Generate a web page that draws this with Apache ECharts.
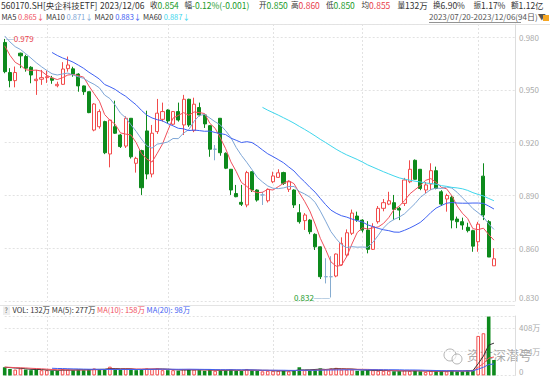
<!DOCTYPE html>
<html><head><meta charset="utf-8">
<script src="https://cdn.jsdelivr.net/npm/echarts@6/dist/echarts.min.js"></script>
<style>html,body{margin:0;padding:0;background:#fff}#c{width:550px;height:381px}</style>
</head><body><div id="c"></div>
<script>
// ---- data ----
const dates = [
'2023/07/20','2023/07/21','2023/07/24','2023/07/25','2023/07/26','2023/07/27','2023/07/28','2023/07/31',
'2023/08/01','2023/08/02','2023/08/03','2023/08/04','2023/08/07','2023/08/08','2023/08/09','2023/08/10','2023/08/11',
'2023/08/14','2023/08/15','2023/08/16','2023/08/17','2023/08/18','2023/08/21','2023/08/22','2023/08/23','2023/08/24',
'2023/08/25','2023/08/28','2023/08/29','2023/08/30','2023/08/31',
'2023/09/01','2023/09/04','2023/09/05','2023/09/06','2023/09/07','2023/09/08','2023/09/11','2023/09/12','2023/09/13',
'2023/09/14','2023/09/15','2023/09/18','2023/09/19','2023/09/20','2023/09/21','2023/09/22','2023/09/25','2023/09/26',
'2023/09/27','2023/09/28',
'2023/10/09','2023/10/10','2023/10/11','2023/10/12','2023/10/13','2023/10/16','2023/10/17','2023/10/18','2023/10/19',
'2023/10/20','2023/10/23','2023/10/24','2023/10/25','2023/10/26','2023/10/27','2023/10/30','2023/10/31',
'2023/11/01','2023/11/02','2023/11/03','2023/11/06','2023/11/07','2023/11/08','2023/11/09','2023/11/10','2023/11/13',
'2023/11/14','2023/11/15','2023/11/16','2023/11/17','2023/11/20','2023/11/21','2023/11/22','2023/11/23','2023/11/24',
'2023/11/27','2023/11/28','2023/11/29','2023/11/30',
'2023/12/01','2023/12/04','2023/12/05','2023/12/06'];
const opens = [0.977,0.9599,0.9553,0.9709,0.969,0.9629,0.9553,0.9561,0.957,0.9567,
0.9524,0.9532,0.9621,0.962,0.959,0.9523,0.949,0.9272,0.9291,0.932,
0.9136,0.9291,0.9244,0.9181,0.9339,0.9083,0.9155,0.9267,0.9022,0.9263,
0.9333,0.9386,0.9305,0.9377,0.9301,0.9447,0.9269,0.940,0.9358,0.9297,
0.9163,0.9339,0.914,0.9049,0.8911,0.8861,0.8846,0.9035,0.8931,0.8903,
0.887,0.8978,0.9003,0.903,0.8935,0.8931,0.8802,0.8757,0.876,0.8679,
0.8608,0.8438,0.8438,0.8442,0.8505,0.8561,0.8685,0.8783,0.876,0.8703,
0.8594,0.8751,0.8827,0.8851,0.8859,0.8827,0.8855,0.8978,0.910,0.9049,
0.8931,0.8965,0.9041,0.8921,0.888,0.889,0.8766,0.8751,0.8719,0.870,
0.8637,0.901,0.8751,0.850];
const closes = [0.9604,0.9553,0.9599,0.9694,0.9624,0.9585,0.9561,0.957,0.9575,0.9555,
0.9532,0.9619,0.9642,0.9591,0.9523,0.949,0.9371,0.942,0.9377,0.9143,
0.9329,0.9254,0.9178,0.9339,0.912,0.9111,0.8944,0.9022,0.9254,0.9368,
0.9377,0.9324,0.9377,0.9329,0.9447,0.9301,0.9419,0.9358,0.9307,0.9163,
0.9163,0.9143,0.9055,0.8931,0.8893,0.885,0.903,0.8931,0.8874,0.8903,
0.8935,0.9011,0.9029,0.8969,0.8978,0.8846,0.8751,0.8789,0.8694,0.8608,
0.8438,0.8438,0.8438,0.8567,0.8628,0.8688,0.880,0.876,0.8703,0.8594,
0.8722,0.8827,0.8859,0.887,0.8821,0.8817,0.8988,0.9049,0.8992,0.894,
0.896,0.9041,0.894,0.8851,0.890,0.876,0.8751,0.8732,0.870,0.8612,
0.8737,0.8789,0.855,0.854];
const lows = [0.9595,0.9515,0.9515,0.9624,0.9604,0.9538,0.9472,0.9529,0.954,0.9535,
0.9515,0.953,0.9604,0.9575,0.949,0.9472,0.9368,0.9265,0.928,0.9135,
0.906,0.925,0.917,0.917,0.911,0.903,0.8903,0.8992,0.9003,0.925,
0.932,0.931,0.930,0.932,0.9244,0.929,0.926,0.935,0.9284,0.912,
0.910,0.9126,0.905,0.8903,0.889,0.884,0.8833,0.892,0.8865,0.8846,
0.886,0.897,0.900,0.896,0.892,0.8829,0.874,0.8704,0.868,0.859,
0.8425,0.840,0.832,0.8435,0.850,0.855,0.8675,0.875,0.869,0.8571,
0.859,0.874,0.881,0.8845,0.876,0.876,0.884,0.897,0.899,0.893,
0.8912,0.893,0.8935,0.884,0.8808,0.8713,0.8714,0.8705,0.869,0.858,
0.858,0.876,0.855,0.850];
const highs = [0.979,0.9624,0.9633,0.9712,0.970,0.9635,0.9614,0.9614,0.961,0.958,
0.9547,0.9658,0.969,0.9632,0.9595,0.9525,0.949,0.9425,0.939,0.9325,
0.933,0.9439,0.925,0.935,0.934,0.912,0.916,0.9382,0.9301,0.9449,
0.9428,0.939,0.938,0.9428,0.9472,0.945,0.9456,0.9428,0.936,0.930,
0.9187,0.934,0.9145,0.905,0.896,0.896,0.904,0.9037,0.8935,0.8921,
0.894,0.9035,0.9049,0.9035,0.8985,0.8935,0.8851,0.880,0.8765,0.8685,
0.861,0.8543,0.8555,0.857,0.8662,0.8707,0.882,0.8808,0.8765,0.8754,
0.8742,0.884,0.888,0.8921,0.8903,0.8835,0.900,0.910,0.9105,0.905,
0.8977,0.9083,0.9064,0.893,0.891,0.890,0.878,0.8774,0.8745,0.8705,
0.875,0.9083,0.876,0.860];
// volume in 万
const volumes = [70,55,50,60,50,45,50,45,45,40,
40,55,50,45,50,45,55,60,50,55,
75,55,50,55,50,45,55,60,55,60,
45,45,45,40,55,50,50,45,40,50,
40,45,45,50,40,40,55,45,40,35,
40,40,40,40,35,45,70,45,45,50,
60,55,60,65,50,50,50,40,40,45,
45,40,40,40,35,35,45,40,40,35,
30,40,35,40,35,45,35,35,45,47,
339,362,505,132];
// closes / volumes of the 10 sessions before 2023/07/20 (feed the moving averages)
const priorCloses = [0.988,0.990,0.987,0.985,0.986,0.984,0.982,0.980,0.978,0.975];
const priorVolumes = [75,70,80,70,65,75,70,68,72,70];
const priceTicks = [0.830,0.860,0.890,0.920,0.950,0.980];
const volTicks = [0,204,408];
const maPeriods = [5,10,20,60];
const volMaPeriods = [5,10,20];
// header read-outs as shown on the chart
const headerLabels = ['收','幅','开','高','低','均','量','换','振','额'];
const headerValues = ['0.854','-0.12%(-0.001)','0.850','0.860','0.850','0.855','132万','6.90%','1.17%','1.12亿'];
const maReadouts = ['0.865','0.871','0.883','0.887'];
const volReadouts = ['132万','277万','158万','98万'];

// ---- helpers ----
function movingAvg(values, prior, n) {
  const all = prior.concat(values);
  const off = prior.length;
  return values.map((_, i) => {
    const idx = i + off;
    if (idx < n - 1) return null;
    let s = 0;
    for (let k = idx - n + 1; k <= idx; k++) s += all[k];
    return +(s / n).toFixed(4);
  });
}
const N = dates.length;
const pad = ['', '', '', ''];
const cats = dates.concat(pad);
const kData = dates.map((d, i) => [opens[i], closes[i], lows[i], highs[i]]);
const maColors = ['#f0505c', '#7ea6d6', '#3f61f2', '#3fd6ec'];
const maSeries = maPeriods.map((p, j) => ({
  name: 'MA' + p, type: 'line', xAxisIndex: 0, yAxisIndex: 0,
  data: movingAvg(closes, priorCloses, p), showSymbol: false, silent: true,
  lineStyle: { width: 1, color: maColors[j] }, z: 3
}));
const allCloses = priorCloses.concat(closes);
const volData = volumes.map((v, i) => {
  const up = allCloses[i + priorCloses.length] >= allCloses[i + priorCloses.length - 1];
  return { value: v, itemStyle: up ? { color: '#fff', borderColor: '#f24b4b', borderWidth: 1 } : { color: '#0d8a1c', borderColor: '#0d8a1c', borderWidth: 0 } };
});
const volMaColors = ['#333333', '#f0505c', '#3f61f2'];
const volMaSeries = volMaPeriods.map((p, j) => ({
  name: 'VMA' + p, type: 'line', xAxisIndex: 1, yAxisIndex: 1,
  data: movingAvg(volumes, priorVolumes, p), showSymbol: false, silent: true,
  lineStyle: { width: 1, color: volMaColors[j] }, z: 3
}));
let hiIdx = 0, loIdx = 0;
highs.forEach((h, i) => { if (h > highs[hiIdx]) hiIdx = i; });
lows.forEach((l, i) => { if (l < lows[loIdx]) loIdx = i; });

const FONT = '"Noto Sans CJK SC", "Noto Sans", sans-serif';
const GREEN = '#1a9a2a', RED = '#e8404a', DARK = '#333';
const last = N - 1;
const headerX = [150, 184.5, 259, 291, 326, 361.5, 397.5, 433, 473.5, 511];
const headerColors = [GREEN, GREEN, GREEN, RED, GREEN, RED, DARK, DARK, DARK, DARK];
const rs = (c, s) => ({ fill: c, fontSize: s, fontFamily: FONT });

function plain(x, y, t, c, size) {
  return { type: 'text', left: x, top: y, silent: true, style: { text: t, fill: c, fontSize: size, fontFamily: FONT } };
}
const graphic = [
  plain(1, 0.5, '560170.SH[央企科技ETF]', DARK, 8.5),
  plain(100, 0.5, dates[last], DARK, 8.5)
].concat(headerLabels.map((l, j) => ({
  type: 'text', left: headerX[j], top: 0.5, silent: true,
  style: { text: '{l|' + l + '}{v|' + headerValues[j] + '}', fontSize: 8.5, fontFamily: FONT,
    rich: { l: rs(DARK, 7.6), v: rs(headerColors[j], 8.5) } }
}))).concat([
  { type: 'text', left: 1.5, top: 12.5, silent: true,
    style: { text: maPeriods.map((p, j) => '{k|MA' + p + '} {m' + j + '|' + maReadouts[j] + '↓}').join(' '),
      fontSize: 7.5, fontFamily: FONT,
      rich: { k: rs(DARK, 7.5), m0: rs(maColors[0], 7.5), m1: rs(maColors[1], 7.5), m2: rs(maColors[2], 7.5), m3: rs(maColors[3], 7.5) } } },
  { type: 'text', left: 429, top: 12.5, silent: true, style: { text: dates[0] + '-' + dates[last] + '(' + N + '日)▼', fill: '#555', fontSize: 8, fontFamily: FONT } },
  { type: 'line', silent: true, shape: { x1: 429, y1: 22.5, x2: 521, y2: 22.5 }, style: { stroke: '#777', lineWidth: 0.8 } },
  { type: 'rect', silent: true, left: 543, top: 15, shape: { width: 6, height: 6 }, style: { fill: '#f5a623' } },
  { type: 'line', silent: true, shape: { x1: 0, y1: 24.5, x2: 550, y2: 24.5 }, style: { stroke: '#e4e4e4', lineWidth: 1 } },
  { type: 'line', silent: true, shape: { x1: 0, y1: 305.5, x2: 515, y2: 305.5 }, style: { stroke: '#e4e4e4', lineWidth: 1 } },
  { type: 'rect', silent: true, left: 3, top: 306.5, shape: { width: 7, height: 8.5 }, style: { fill: '#eeeeee' } },
  plain(4.6, 306, '?', '#666', 7),
  { type: 'text', left: 12.5, top: 305.5, silent: true,
    style: { text: '{a|VOL: ' + volReadouts[0] + ' MA(5): ' + volReadouts[1] + '} {b|MA(10): ' + volReadouts[2] + '} {c|MA(20): ' + volReadouts[3] + '}',
      fontSize: 7.5, fontFamily: FONT,
      rich: { a: rs(DARK, 7.5), b: rs('#f0505c', 7.5), c: rs('#3f61f2', 7.5) } } },
  { type: 'circle', silent: true, shape: { cx: 450, cy: 355, r: 6 }, style: { fill: 'none', stroke: 'rgba(120,120,120,0.55)', lineWidth: 1 } },
  { type: 'circle', silent: true, shape: { cx: 457, cy: 359, r: 5 }, style: { fill: 'rgba(255,255,255,0.6)', stroke: 'rgba(120,120,120,0.55)', lineWidth: 1 } },
  plain(467, 348, '资本深潜号', 'rgba(110,110,110,0.6)', 13)
]);

const splitByMonth = (idx) => idx > 0 && idx < N && dates[idx].slice(0, 7) !== dates[idx - 1].slice(0, 7);
const xCommon = {
  type: 'category', data: cats, boundaryGap: false,
  axisLine: { show: false }, axisTick: { show: false }, axisLabel: { show: false },
  splitLine: { show: true, interval: splitByMonth, lineStyle: { color: '#e2e2e2', type: [2, 2] } }
};
const option = {
  animation: false,
  backgroundColor: '#fff',
  grid: [
    { left: 4.7, right: 35, top: 24, height: 277 },
    { left: 4.7, right: 35, top: 316, bottom: 5.6 }
  ],
  xAxis: [Object.assign({ gridIndex: 0 }, xCommon), Object.assign({ gridIndex: 1 }, xCommon)],
  yAxis: [
    { gridIndex: 0, type: 'value', position: 'right', scale: true,
      min: priceTicks[0], max: 0.9875, interval: priceTicks[1] - priceTicks[0],
      axisLine: { show: true, lineStyle: { color: '#dddddd' } }, axisTick: { show: false },
      axisLabel: { color: '#aaaaaa', fontSize: 8, fontFamily: FONT, margin: 4,
        formatter: v => v.toFixed(3), showMaxLabel: false, verticalAlignMinLabel: 'bottom' },
      splitLine: { lineStyle: { color: '#e2e2e2', type: [2, 2] } } },
    { gridIndex: 1, type: 'value', position: 'right',
      min: volTicks[0], max: 510, interval: volTicks[1] - volTicks[0],
      axisLine: { show: true, lineStyle: { color: '#dddddd' } }, axisTick: { show: false },
      axisLabel: { color: '#aaaaaa', fontSize: 8, fontFamily: FONT, margin: 4,
        formatter: v => v === 0 ? '0' : v + '万', showMaxLabel: false, verticalAlignMinLabel: 'bottom' },
      splitLine: { lineStyle: { color: '#e2e2e2', type: [2, 2] } } }
  ],
  graphic: graphic,
  series: [
    { name: 'K', type: 'candlestick', xAxisIndex: 0, yAxisIndex: 0, data: kData, barWidth: 3.6, clip: false,
      itemStyle: { color: '#ffffff', color0: '#0d8a1c', borderColor: '#f24b4b', borderColor0: '#0d8a1c',
        borderColorDoji: '#86acd0', borderWidth: 1 },
      markPoint: { symbol: 'circle', symbolSize: 0, silent: true, animation: false,
        data: [
          { coord: [hiIdx, highs[hiIdx]], label: { show: true, position: 'right', distance: 1,
              formatter: '{l|—}{v|' + highs[hiIdx].toFixed(3) + '}',
              rich: { l: { color: '#86acd0', fontSize: 8 }, v: { color: RED, fontSize: 8, fontFamily: FONT } } } },
          { coord: [loIdx, lows[loIdx]], label: { show: true, position: 'left', distance: 1,
              formatter: '{v|' + lows[loIdx].toFixed(3) + '}{l|——}',
              rich: { l: { color: '#86acd0', fontSize: 8 }, v: { color: GREEN, fontSize: 8, fontFamily: FONT } } } }
        ] } }
  ].concat(maSeries, [
    { name: 'VOL', type: 'bar', xAxisIndex: 1, yAxisIndex: 1, data: volData, barWidth: 3.6, silent: true }
  ], volMaSeries)
};
const chart = echarts.init(document.getElementById('c'), null, { renderer: 'svg' });
chart.setOption(option);
</script></body></html>
